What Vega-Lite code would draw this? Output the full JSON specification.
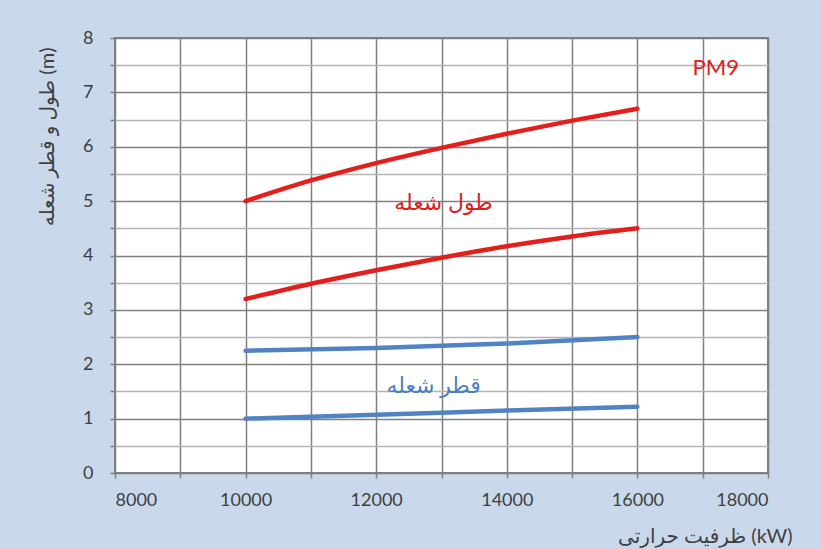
{
  "$schema": "https://vega.github.io/schema/vega-lite/v6.json",
  "width": 653,
  "height": 435,
  "autosize": "none",
  "padding": {"left": 115, "top": 38, "right": 53, "bottom": 76},
  "background": "#c9d9eb",
  "config": {
    "font": "Lato, DejaVu Sans",
    "view": {"fill": "white", "stroke": "#7f7f7f", "strokeWidth": 2}
  },
  "datasets": {
    "lines": [
      {"kw": 10000, "v": 5.0, "s": "L1"}, {"kw": 11000, "v": 5.38, "s": "L1"}, {"kw": 12000, "v": 5.7, "s": "L1"}, {"kw": 13000, "v": 5.98, "s": "L1"}, {"kw": 14000, "v": 6.24, "s": "L1"}, {"kw": 15000, "v": 6.48, "s": "L1"}, {"kw": 16000, "v": 6.7, "s": "L1"},
      {"kw": 10000, "v": 3.2, "s": "L2"}, {"kw": 11000, "v": 3.48, "s": "L2"}, {"kw": 12000, "v": 3.73, "s": "L2"}, {"kw": 13000, "v": 3.96, "s": "L2"}, {"kw": 14000, "v": 4.17, "s": "L2"}, {"kw": 15000, "v": 4.35, "s": "L2"}, {"kw": 16000, "v": 4.5, "s": "L2"},
      {"kw": 10000, "v": 2.25, "s": "D1"}, {"kw": 12000, "v": 2.3, "s": "D1"}, {"kw": 14000, "v": 2.38, "s": "D1"}, {"kw": 16000, "v": 2.5, "s": "D1"},
      {"kw": 10000, "v": 1.0, "s": "D2"}, {"kw": 12000, "v": 1.07, "s": "D2"}, {"kw": 14000, "v": 1.15, "s": "D2"}, {"kw": 16000, "v": 1.22, "s": "D2"}
    ],
    "labels": [
      {"kw": 17200, "v": 7.44, "t": "PM9", "c": "red"},
      {"kw": 13030, "v": 4.96, "t": "طول شعله", "c": "red"},
      {"kw": 12880, "v": 1.6, "t": "قطر شعله", "c": "blue"}
    ]
  },
  "encoding": {
    "x": {
      "field": "kw", "type": "quantitative",
      "scale": {"domain": [8000, 18000], "nice": false},
      "axis": {
        "values": [8000, 9000, 10000, 11000, 12000, 13000, 14000, 15000, 16000, 17000, 18000],
        "labelExpr": "datum.value % 2000 ? '' : datum.value",
        "grid": true, "gridColor": "#7f7f7f", "gridWidth": 1.5,
        "domain": false, "tickColor": "#7f7f7f", "tickSize": 5, "tickWidth": 1.5,
        "labelFontSize": 18, "labelColor": "#404040", "labelPadding": 13,
        "title": "ظرفیت حرارتی (kW)", "titleFontSize": 20, "titleFontWeight": "normal", "titleColor": "#404040",
        "titleAnchor": null, "titleAlign": "right", "titleX": 677, "titleY": 53
      }
    },
    "y": {
      "field": "v", "type": "quantitative",
      "scale": {"domain": [0, 8], "nice": false},
      "axis": {
        "values": [0, 0.5, 1, 1.5, 2, 2.5, 3, 3.5, 4, 4.5, 5, 5.5, 6, 6.5, 7, 7.5, 8],
        "labelExpr": "datum.value % 1 ? '' : datum.value",
        "grid": true, "gridWidth": 1.5,
        "gridColor": {"expr": "datum.value % 1 ? '#b3b3b3' : '#7f7f7f'"},
        "domain": false, "tickColor": "#7f7f7f", "tickSize": 5, "tickWidth": 1.5,
        "labelFontSize": 18, "labelColor": "#404040", "labelPadding": 17,
        "title": "طول و قطر شعله (m)", "titleFontSize": 20, "titleFontWeight": "normal", "titleColor": "#404040",
        "titleAnchor": null, "titleAlign": "right", "titleX": -58, "titleY": 9
      }
    }
  },
  "layer": [
    {
      "data": {"name": "lines"},
      "mark": {"type": "line", "strokeWidth": 4.5, "interpolate": "monotone", "strokeCap": "round"},
      "encoding": {
        "detail": {"field": "s"},
        "color": {
          "field": "s", "type": "nominal",
          "scale": {"domain": ["L1", "L2", "D1", "D2"], "range": ["#e31e1b", "#e31e1b", "#5183c4", "#5183c4"]},
          "legend": null
        }
      }
    },
    {
      "data": {"name": "labels"},
      "mark": {"type": "text", "fontSize": 22, "align": "center", "baseline": "middle"},
      "encoding": {
        "text": {"field": "t"},
        "color": {
          "field": "c", "type": "nominal",
          "scale": {"domain": ["red", "blue"], "range": ["#d8221f", "#4f7fbf"]},
          "legend": null
        }
      }
    }
  ],
  "resolve": {"scale": {"color": "independent"}}
}
